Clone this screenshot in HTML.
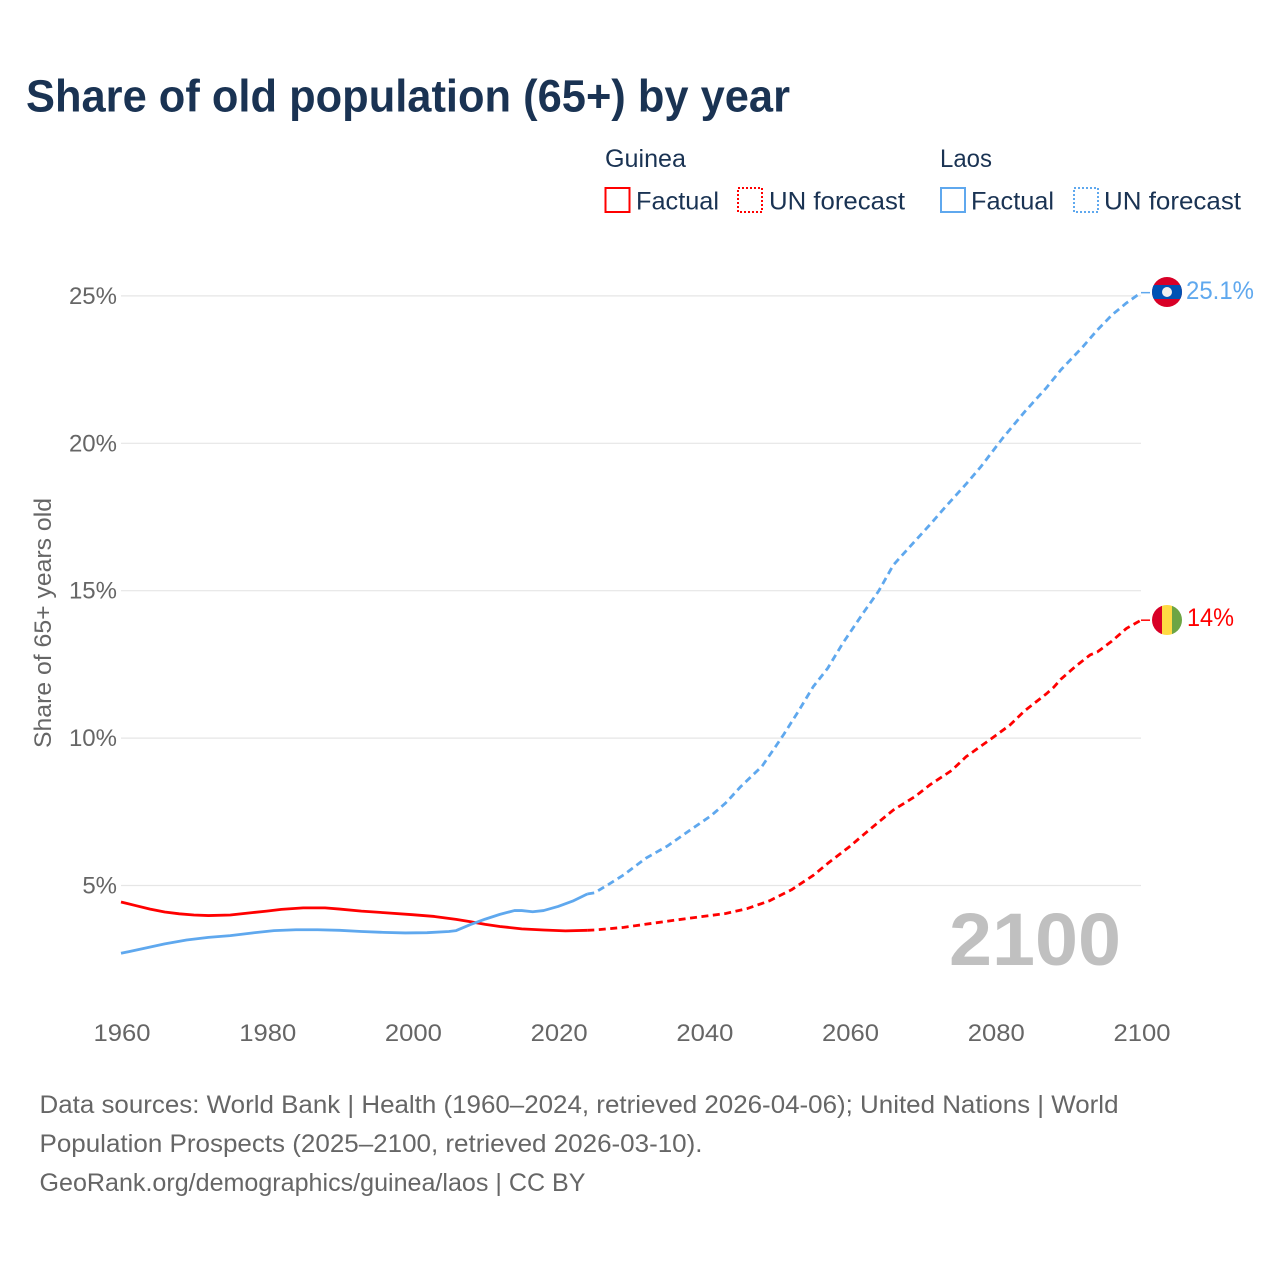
<!DOCTYPE html>
<html lang="en">
<head>
<meta charset="utf-8">
<title>Share of old population (65+) by year</title>
<style>
html,body{margin:0;padding:0;background:#fff;}
svg{display:block;}
text{font-family:"Liberation Sans",sans-serif;}
</style>
</head>
<body>
<svg id="chart" xmlns="http://www.w3.org/2000/svg" width="1280" height="1280" viewBox="0 0 1280 1280">
  <rect x="0" y="0" width="1280" height="1280" fill="#ffffff"/>
  <text x="26" y="111.5" font-size="45" font-weight="700" fill="#1a3353" textLength="764" lengthAdjust="spacingAndGlyphs">Share of old population (65+) by year</text>

  <g fill="#1a3353" font-size="25">
    <text x="605" y="167" textLength="81" lengthAdjust="spacingAndGlyphs">Guinea</text>
    <rect x="605.5" y="188" width="24" height="24" fill="none" stroke="#ff0000" stroke-width="2"/>
    <text x="636" y="209.5" textLength="83" lengthAdjust="spacingAndGlyphs">Factual</text>
    <rect x="738" y="188" width="24" height="24" fill="none" stroke="#ff0000" stroke-width="2" stroke-dasharray="2 2"/>
    <text x="769" y="209.5" textLength="136" lengthAdjust="spacingAndGlyphs">UN forecast</text>
    <text x="940" y="167" textLength="52" lengthAdjust="spacingAndGlyphs">Laos</text>
    <rect x="941" y="188" width="24" height="24" fill="none" stroke="#5fa8ee" stroke-width="2"/>
    <text x="971" y="209.5" textLength="83" lengthAdjust="spacingAndGlyphs">Factual</text>
    <rect x="1074" y="188" width="24" height="24" fill="none" stroke="#5fa8ee" stroke-width="2" stroke-dasharray="2 2"/>
    <text x="1104" y="209.5" textLength="137" lengthAdjust="spacingAndGlyphs">UN forecast</text>
  </g>

  <g id="grid"></g>
  <g id="yticks"></g>
  <g id="xticks"></g>
  <text transform="translate(51,623) rotate(-90)" text-anchor="middle" font-size="24" fill="#666666" textLength="250" lengthAdjust="spacingAndGlyphs">Share of 65+ years old</text>
  <text x="949" y="965" font-size="74" font-weight="700" fill="#c0c0c0" textLength="172" lengthAdjust="spacingAndGlyphs">2100</text>
  <g id="series"></g>

  <defs>
    <clipPath id="clip-laos"><circle cx="1167" cy="292" r="15"/></clipPath>
    <clipPath id="clip-guinea"><circle cx="1167" cy="620" r="15"/></clipPath>
  </defs>
  <g id="flag-laos" clip-path="url(#clip-laos)">
    <rect x="1152" y="277" width="30" height="30" fill="#d80027"/>
    <rect x="1152" y="285" width="30" height="14" fill="#0052b4"/>
    <circle cx="1167" cy="292" r="5" fill="#f0f0f0"/>
  </g>
  <g id="flag-guinea" clip-path="url(#clip-guinea)">
    <rect x="1152" y="605" width="10" height="30" fill="#d80027"/>
    <rect x="1162" y="605" width="10" height="30" fill="#ffda44"/>
    <rect x="1172" y="605" width="10" height="30" fill="#6da544"/>
  </g>
  <text x="1186" y="299" font-size="25" fill="#5fa8ee" textLength="68" lengthAdjust="spacingAndGlyphs">25.1%</text>
  <text x="1187" y="626" font-size="25" fill="#ff0000" textLength="47" lengthAdjust="spacingAndGlyphs">14%</text>

  <g font-size="25" fill="#666666">
    <text x="39.5" y="1113" textLength="1079" lengthAdjust="spacingAndGlyphs">Data sources: World Bank | Health (1960–2024, retrieved 2026-04-06); United Nations | World</text>
    <text x="39.5" y="1152" textLength="663" lengthAdjust="spacingAndGlyphs">Population Prospects (2025–2100, retrieved 2026-03-10).</text>
    <text x="39.5" y="1191" textLength="546" lengthAdjust="spacingAndGlyphs">GeoRank.org/demographics/guinea/laos | CC BY</text>
  </g>
</svg>
<script>
var yTickValues = [5, 10, 15, 20, 25];
var xTickYears = [1960, 1980, 2000, 2020, 2040, 2060, 2080, 2100];

var guineaFactualYears = [1960,1962,1964,1966,1968,1970,1972,1975,1978,1980,1982,1985,1988,1990,1993,1996,2000,2003,2006,2008,2010,2012,2015,2018,2021,2024];
var guineaFactualValues = [4.44,4.32,4.20,4.10,4.04,4.00,3.98,4.00,4.08,4.13,4.19,4.24,4.24,4.20,4.13,4.08,4.01,3.95,3.85,3.77,3.68,3.61,3.53,3.49,3.46,3.48];

var guineaForecastYears = [2024,2025,2029,2033,2038,2043,2046,2049,2052,2055,2057,2060,2063,2066,2069,2071,2074,2076,2079,2082,2084,2087,2088,2089,2091,2093,2094,2096,2098,2100];
var guineaForecastValues = [3.48,3.49,3.58,3.72,3.89,4.05,4.22,4.48,4.85,5.34,5.75,6.32,6.95,7.56,8.02,8.41,8.90,9.37,9.90,10.44,10.92,11.50,11.72,12.00,12.43,12.82,12.92,13.29,13.72,14.00];

var laosFactualYears = [1960,1963,1966,1969,1972,1975,1978,1981,1984,1987,1990,1993,1996,1999,2002,2005,2006,2008,2010,2012,2014,2015,2016.5,2018,2020,2022,2024];
var laosFactualValues = [2.70,2.86,3.02,3.15,3.24,3.30,3.39,3.47,3.50,3.50,3.48,3.44,3.41,3.39,3.40,3.44,3.47,3.68,3.86,4.02,4.15,4.15,4.11,4.15,4.29,4.47,4.71];

var laosForecastYears = [2024,2025,2027,2029,2032,2035,2038,2041,2043,2045,2048,2050,2051,2053,2055,2057,2059,2060,2062,2064,2066,2069,2071,2073,2076,2078,2081,2084,2087,2089,2092,2094,2096,2098,2100];
var laosForecastValues = [4.71,4.75,5.05,5.36,5.92,6.34,6.86,7.37,7.80,8.34,9.05,9.77,10.14,10.92,11.74,12.37,13.19,13.56,14.29,14.99,15.87,16.69,17.23,17.80,18.62,19.20,20.17,21.06,21.88,22.49,23.27,23.84,24.35,24.76,25.11];

var NS = 'http://www.w3.org/2000/svg';
var RED = '#ff0000';
var BLUE = '#5fa8ee';

function xScale(year) { return 121 + (year - 1960) * (1020 / 140); }
function yScale(value) { return 885.5 - (value - 5) * 29.48; }

function pointsFrom(years, values) {
  return years.map(function (yr, i) {
    return xScale(yr).toFixed(2) + ',' + yScale(values[i]).toFixed(2);
  }).join(' ');
}

var gridGroup = document.getElementById('grid');
var yTickGroup = document.getElementById('yticks');
var xTickGroup = document.getElementById('xticks');
var seriesGroup = document.getElementById('series');

yTickValues.forEach(function (v) {
  var line = document.createElementNS(NS, 'line');
  
  
  line.setAttribute('x1', xScale(1960));
  line.setAttribute('x2', xScale(2100));
  line.setAttribute('y1', yScale(v));
  line.setAttribute('y2', yScale(v));
  line.setAttribute('stroke', '#e6e6e6');
  line.setAttribute('stroke-width', '1.2');
  gridGroup.appendChild(line);

  var label = document.createElementNS(NS, 'text');
  
  
  label.setAttribute('x', '117');
  label.setAttribute('y', yScale(v) + 8);
  label.setAttribute('text-anchor', 'end');
  label.setAttribute('font-size', '24');
  label.setAttribute('fill', '#666666');
  label.textContent = v + '%';
  yTickGroup.appendChild(label);
});

xTickYears.forEach(function (yr) {
  var label = document.createElementNS(NS, 'text');
  
  
  label.setAttribute('x', xScale(yr) + 1);
  label.setAttribute('y', '1041');
  label.setAttribute('text-anchor', 'middle');
  label.setAttribute('font-size', '24');
  label.setAttribute('fill', '#666666');
  label.setAttribute('textLength', '57');
  label.setAttribute('lengthAdjust', 'spacingAndGlyphs');
  label.textContent = yr;
  xTickGroup.appendChild(label);
});

function addLine(name, years, values, color, dashed) {
  var line = document.createElementNS(NS, 'polyline');
  
  
  line.setAttribute('points', pointsFrom(years, values));
  line.setAttribute('fill', 'none');
  line.setAttribute('stroke', color);
  line.setAttribute('stroke-width', '2.8');
  line.setAttribute('stroke-linejoin', 'round');
  if (dashed) { line.setAttribute('stroke-dasharray', '7 4.5'); }
  seriesGroup.appendChild(line);
}

function addLeader(name, value, color) {
  var leader = document.createElementNS(NS, 'line');
  
  
  leader.setAttribute('x1', xScale(2100));
  leader.setAttribute('x2', xScale(2100) + 9);
  leader.setAttribute('y1', yScale(value));
  leader.setAttribute('y2', yScale(value));
  leader.setAttribute('stroke', color);
  leader.setAttribute('stroke-width', '1.5');
  seriesGroup.appendChild(leader);
}

addLine('guinea-factual-line', guineaFactualYears, guineaFactualValues, RED, false);
addLine('guinea-forecast-line', guineaForecastYears, guineaForecastValues, RED, true);
addLine('laos-factual-line', laosFactualYears, laosFactualValues, BLUE, false);
addLine('laos-forecast-line', laosForecastYears, laosForecastValues, BLUE, true);
addLeader('guinea-end-leader', guineaForecastValues[guineaForecastValues.length - 1], RED);
addLeader('laos-end-leader', laosForecastValues[laosForecastValues.length - 1], BLUE);
</script>
</body>
</html>
